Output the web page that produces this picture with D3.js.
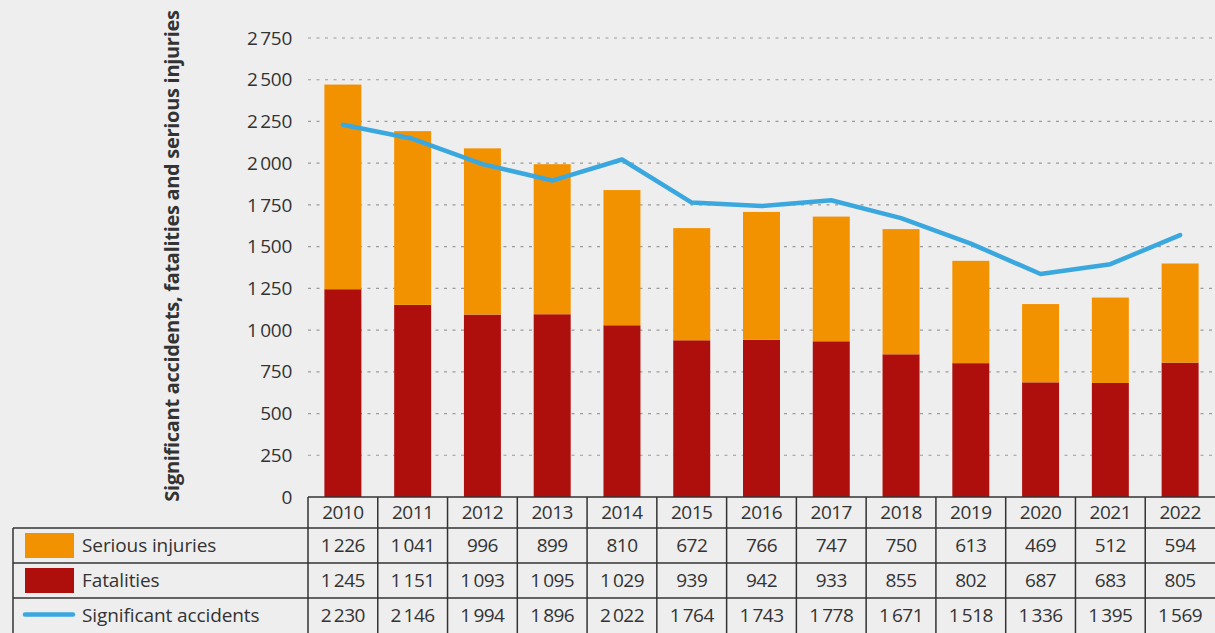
<!DOCTYPE html>
<html><head><meta charset="utf-8">
<script src="https://cdn.jsdelivr.net/npm/d3@7"></script>
<style>
html,body{margin:0;padding:0;background:#eeeeee;}
svg{display:block;}
text{font-family:"Open Sans","Noto Sans",sans-serif;fill:#333;}
</style></head>
<body>
<svg id="c" width="1215" height="633"></svg>
<script>
const years = ["2010","2011","2012","2013","2014","2015","2016","2017","2018","2019","2020","2021","2022"];
const seriousInjuries = [1226,1041,996,899,810,672,766,747,750,613,469,512,594];
const fatalities = [1245,1151,1093,1095,1029,939,942,933,855,802,687,683,805];
const significantAccidents = [2230,2146,1994,1896,2022,1764,1743,1778,1671,1518,1336,1395,1569];
const yTicks = [0,250,500,750,1000,1250,1500,1750,2000,2250,2500,2750];
const seriesNames = ["Serious injuries","Fatalities","Significant accidents"];
const colors = {serious:"#f39200", fatal:"#ae0f0c", line:"#3aa8df"};

(function(){
const svg = d3.select("#c");
const mLeft = 308, mRight = 1215, mTop = 38, mBottom = 497;
const fmt = v => d3.format(",")(v).replace(/,/g, "\u2009");
const FS = 19;

const x = d3.scaleBand().domain(years).range([mLeft, mRight]).paddingInner(0.47).paddingOuter(0.235);
const xc = d3.scaleBand().domain(years).range([mLeft, mRight]);
const y = d3.scaleLinear().domain([0, 2750]).range([mBottom, mTop]);

// gridlines
svg.append("g").selectAll("line").data(yTicks.filter(d => d > 0)).join("line")
  .attr("x1", mLeft).attr("x2", mRight)
  .attr("y1", d => y(d)).attr("y2", d => y(d))
  .attr("stroke", "#9a9a9a").attr("stroke-width", 1.2).attr("stroke-dasharray", "3,5.5");

// y axis labels
const yAxis = d3.axisLeft(y).tickValues(yTicks).tickFormat(fmt).tickSize(0).tickPadding(0);
const ga = svg.append("g").attr("transform", `translate(292,0)`).call(yAxis);
ga.select(".domain").remove();
ga.selectAll("text").attr("font-size", FS).attr("fill", "#333")
  .style("font-family", '"Open Sans","Noto Sans",sans-serif').attr("letter-spacing", "-0.3");

// y title
svg.append("text").attr("transform", "translate(179,256) rotate(-90)")
  .attr("text-anchor", "middle").attr("font-size", 20).attr("font-weight", "bold")
  .attr("fill", "#111").attr("letter-spacing", "-0.3")
  .text("Significant accidents, fatalities and serious injuries");

// bars
const stacked = years.map((yr, i) => ({yr, f: fatalities[i], s: seriousInjuries[i]}));
svg.append("g").selectAll("rect").data(stacked).join("rect")
  .attr("x", d => x(d.yr)).attr("width", x.bandwidth())
  .attr("y", d => y(d.f)).attr("height", d => y(0) - y(d.f)).attr("fill", colors.fatal);
svg.append("g").selectAll("rect").data(stacked).join("rect")
  .attr("x", d => x(d.yr)).attr("width", x.bandwidth())
  .attr("y", d => y(d.f + d.s)).attr("height", d => y(d.f) - y(d.f + d.s)).attr("fill", colors.serious);

// line
const line = d3.line().x((d, i) => xc(years[i]) + xc.bandwidth() / 2).y(d => y(d));
svg.append("path").datum(significantAccidents).attr("d", line)
  .attr("fill", "none").attr("stroke", colors.line).attr("stroke-width", 4.5)
  .attr("stroke-linecap", "round").attr("stroke-linejoin", "round");

// table
const rowY = [497, 528, 563, 598, 633];
const tbl = svg.append("g");
const stroke = "#333";
tbl.append("line").attr("x1", mLeft).attr("x2", mRight).attr("y1", rowY[0]).attr("y2", rowY[0]).attr("stroke", stroke).attr("stroke-width", 1.5);
[1,2,3].forEach(k => tbl.append("line").attr("x1", 13).attr("x2", mRight).attr("y1", rowY[k]).attr("y2", rowY[k]).attr("stroke", stroke).attr("stroke-width", 1.5));
tbl.append("line").attr("x1", 13).attr("x2", 13).attr("y1", rowY[1]).attr("y2", rowY[4]).attr("stroke", stroke).attr("stroke-width", 1.5);
tbl.append("g").selectAll("line").data(years).join("line")
  .attr("x1", d => xc(d)).attr("x2", d => xc(d)).attr("y1", rowY[0]).attr("y2", rowY[4])
  .attr("stroke", stroke).attr("stroke-width", 1.5);

tbl.append("g").selectAll("text").data(years).join("text")
  .attr("x", d => xc(d) + xc.bandwidth() / 2).attr("y", (rowY[0] + rowY[1]) / 2 + 6.5)
  .attr("text-anchor", "middle").attr("font-size", FS).attr("letter-spacing", "-0.5").text(d => d);

const rows = [seriousInjuries, fatalities, significantAccidents];
rows.forEach((arr, r) => {
  const cy = (rowY[r + 1] + rowY[r + 2]) / 2 + 6.5;
  tbl.append("g").selectAll("text").data(arr).join("text")
    .attr("x", (d, i) => xc(years[i]) + xc.bandwidth() / 2).attr("y", cy)
    .attr("text-anchor", "middle").attr("font-size", FS).attr("letter-spacing", "-0.5").text(d => fmt(d));
  tbl.append("text").attr("x", 82).attr("y", cy).attr("font-size", FS).attr("letter-spacing", "-0.1").text(seriesNames[r]);
});
tbl.append("rect").attr("x", 25).attr("y", 533).attr("width", 49).attr("height", 25).attr("fill", colors.serious);
tbl.append("rect").attr("x", 25).attr("y", 568).attr("width", 49).attr("height", 25).attr("fill", colors.fatal);
tbl.append("line").attr("x1", 25).attr("x2", 73).attr("y1", 614.5).attr("y2", 614.5)
  .attr("stroke", colors.line).attr("stroke-width", 4.5).attr("stroke-linecap", "round");
})();
</script>
</body></html>
